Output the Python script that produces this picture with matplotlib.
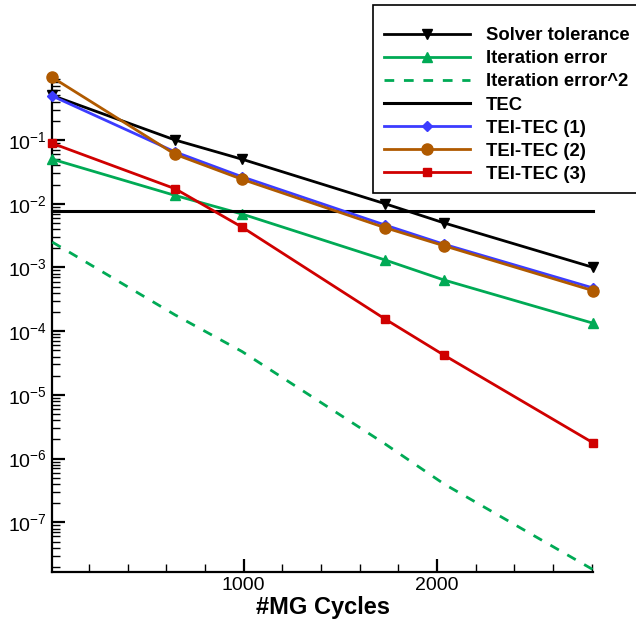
import matplotlib
matplotlib.use("Agg")
import matplotlib.pyplot as plt
from matplotlib.patches import Rectangle
from matplotlib.ticker import LogLocator, MultipleLocator, FixedLocator, NullFormatter

plt.rcParams['font.family'] = ['Liberation Sans', 'DejaVu Sans']
plt.rcParams['mathtext.fontset'] = 'custom'
plt.rcParams['mathtext.rm'] = 'Liberation Sans'
plt.rcParams['mathtext.it'] = 'Liberation Sans'
plt.rcParams['lines.scale_dashes'] = False

# ---- data ----
x_cycles = [11, 646, 992, 1732, 2037, 2809]
solver_tol = [0.5, 0.1, 0.05, 0.01, 0.005, 0.001]
iter_err = [0.050, 0.0135, 0.0069, 0.00131, 0.000635, 0.000133]
iter_err_sq = [2.5e-3, 1.8e-4, 4.8e-5, 1.7e-6, 4.0e-7, 1.8e-8]
tec_value = 0.0077
tei_tec_1 = [0.49, 0.065, 0.0265, 0.00463, 0.00231, 0.000475]
tei_tec_2 = [0.96, 0.0597, 0.0242, 0.00421, 0.00219, 0.000431]
tei_tec_3 = [0.0887, 0.0172, 0.0043, 0.000155, 4.2e-5, 1.76e-6]
x_major_ticks = [1000, 2000]
x_tick_labels = ['1000', '2000']
y_major_ticks = [1e-7, 1e-6, 1e-5, 1e-4, 1e-3, 1e-2, 1e-1]
y_tick_labels = [r'$\mathdefault{10^{-7}}$', r'$\mathdefault{10^{-6}}$',
                 r'$\mathdefault{10^{-5}}$', r'$\mathdefault{10^{-4}}$',
                 r'$\mathdefault{10^{-3}}$', r'$\mathdefault{10^{-2}}$',
                 r'$\mathdefault{10^{-1}}$']

W, H = 636, 622
fig = plt.figure(figsize=(W / 100, H / 100), dpi=100)
ax = fig.add_axes([52.3 / W, 1 - 571.7 / H, (593.3 - 52.3) / W, (571.7 - 78) / H])

green = '#00aa55'
blue = '#3c3cff'
brown = '#b05a00'
red = '#d00000'
lw = 2.0

ax.plot(x_cycles, solver_tol, color='black', lw=lw, marker='v', ms=6.5,
        label='Solver tolerance', clip_on=False, zorder=3)
ax.plot(x_cycles, iter_err, color=green, lw=lw, marker='^', ms=6.5,
        label='Iteration error', clip_on=False, zorder=3)
ax.plot(x_cycles, iter_err_sq, color=green, lw=lw, ls=(0, (7, 7)),
        label='Iteration error^2', clip_on=False, zorder=3)
ax.plot([x_cycles[0], x_cycles[-1]], [tec_value, tec_value], color='black',
        lw=2.2, label='TEC', clip_on=False, zorder=3)
ax.plot(x_cycles, tei_tec_1, color=blue, lw=lw, marker='D', ms=5.5,
        label='TEI-TEC (1)', clip_on=False, zorder=3)
ax.plot(x_cycles, tei_tec_2, color=brown, lw=lw, marker='o', ms=8,
        label='TEI-TEC (2)', clip_on=False, zorder=3)
ax.plot(x_cycles, tei_tec_3, color=red, lw=lw, marker='s', ms=6,
        label='TEI-TEC (3)', clip_on=False, zorder=3)

ax.set_yscale('log')
ax.set_xlim(11, 2809)
ax.set_ylim(1.68e-8, 0.94)

for s in ['top', 'right']:
    ax.spines[s].set_visible(False)
for s in ['left', 'bottom']:
    ax.spines[s].set_linewidth(1.6)

ax.xaxis.set_major_locator(FixedLocator(x_major_ticks))
ax.set_xticklabels(x_tick_labels)
ax.xaxis.set_minor_locator(MultipleLocator(200))
ax.yaxis.set_major_locator(FixedLocator(y_major_ticks))
ax.set_yticklabels(y_tick_labels)
ax.yaxis.set_minor_locator(LogLocator(base=10, subs=range(2, 10), numticks=100))
ax.yaxis.set_minor_formatter(NullFormatter())

ax.tick_params(which='major', direction='in', length=9.5, width=1.6,
               labelsize=14, pad=4, top=False, right=False)
ax.tick_params(which='minor', direction='in', length=5.5, width=1.0,
               top=False, right=False)

ax.set_xlabel('#MG Cycles', fontsize=17, fontweight='bold', labelpad=1)

# legend frame
rect = Rectangle((372.7 / W, 1 - 192.7 / H), (700 - 372.7) / W, (192.7 - 5) / H,
                 transform=fig.transFigure, facecolor='white', edgecolor='black',
                 lw=1.2, zorder=5)
fig.patches.append(rect)
leg = fig.legend(loc='upper left', bbox_to_anchor=(384 / W, 1 - 27.3 / H),
                 bbox_transform=fig.transFigure, frameon=False,
                 prop={'weight': 'bold', 'size': 13.3}, handlelength=4.65,
                 handletextpad=0.85, labelspacing=0.33, borderpad=0,
                 borderaxespad=0, numpoints=1)
leg.set_zorder(6)

fig.savefig('out.png', dpi=100)
